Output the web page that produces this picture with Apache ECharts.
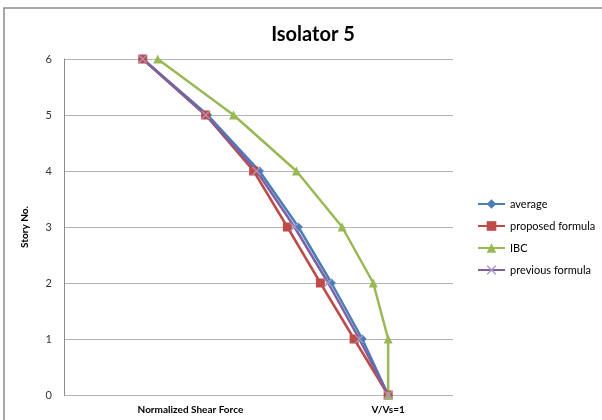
<!DOCTYPE html>
<html>
<head>
<meta charset="utf-8">
<script src="https://cdn.jsdelivr.net/npm/echarts@6/dist/echarts.min.js"></script>
<style>html,body{margin:0;padding:0;background:#fff;}#c{width:602px;height:420px;}</style>
</head>
<body>
<div id="c"></div>
<script>
const stories = [0, 1, 2, 3, 4, 5, 6];
const average = [1.0, 0.92, 0.825, 0.723, 0.603, 0.443, 0.243];
const proposedFormula = [1.0, 0.895, 0.791, 0.689, 0.585, 0.437, 0.243];
const ibc = [1.0, 1.0, 0.954, 0.858, 0.717, 0.523, 0.289];
const previousFormula = [1.0, 0.911, 0.815, 0.711, 0.594, 0.437, 0.243];
const xLabelValues = [0.39, 1.0];
const xLabelTexts = ['Normalized Shear Force', 'V/Vs=1'];

const pts = arr => arr.map((v, i) => [v, stories[i]]);
const FONT = 'Lato, "Open Sans", sans-serif';
const xPath = 'path://M1,0 L5,4 L9,0 L10,1 L6,5 L10,9 L9,10 L5,6 L1,10 L0,9 L4,5 L0,1 Z';

const chart = echarts.init(document.getElementById('c'), null, {renderer: 'canvas'});
chart.setOption({
  animation: false,
  backgroundColor: '#fff',
  textStyle: {fontFamily: FONT},
  title: {
    text: 'Isolator 5', left: 308, top: 20, textAlign: 'center',
    textStyle: {fontFamily: FONT, fontSize: 20, fontWeight: 'bold', color: '#000'}
  },
  graphic: [{
    type: 'rect', shape: {x: 4, y: 8, width: 640, height: 440},
    style: {fill: 'none', stroke: '#8a8a8a', lineWidth: 1.5}, silent: true, z: -1
  }],
  legend: {
    orient: 'vertical', left: 472, top: 193, itemGap: 10, itemWidth: 27, itemHeight: 12,
    textStyle: {fontFamily: FONT, fontSize: 11, color: '#000', lineHeight: 12},
    data: ['average', 'proposed formula', 'IBC', 'previous formula']
  },
  grid: {left: 64, top: 59, right: 149, bottom: 25, containLabel: false},
  xAxis: {
    type: 'value', min: 0, max: 1.2,
    axisLine: {show: false}, axisTick: {show: false}, splitLine: {show: false},
    axisLabel: {
      customValues: xLabelValues, margin: 10,
      fontFamily: FONT, fontSize: 10, fontWeight: 'bold', color: '#000',
      formatter: v => { const i = xLabelValues.findIndex(x => Math.abs(x - v) < 1e-6); return i >= 0 ? xLabelTexts[i] : ''; }
    }
  },
  yAxis: {
    type: 'value', min: 0, max: 6, interval: 1,
    name: 'Story No.', nameLocation: 'middle', nameGap: 34,
    nameTextStyle: {fontFamily: FONT, fontSize: 10, fontWeight: 'bold', color: '#000'},
    axisLine: {show: true, lineStyle: {color: '#8a8a8a', width: 1}},
    axisTick: {show: false},
    axisLabel: {margin: 12, fontFamily: FONT, fontSize: 11, color: '#333'},
    splitLine: {lineStyle: {color: '#b4b4b4', width: 1}}
  },
  series: [
    {name: 'average', type: 'line', data: pts(average), symbol: 'diamond', symbolSize: 9,
     itemStyle: {color: '#4a7ebb'}, lineStyle: {width: 2.5, color: '#4a7ebb'}},
    {name: 'proposed formula', type: 'line', data: pts(proposedFormula), symbol: 'rect', symbolSize: 9,
     itemStyle: {color: '#be4b48'}, lineStyle: {width: 2.5, color: '#be4b48'}},
    {name: 'IBC', type: 'line', data: pts(ibc), symbol: 'triangle', symbolSize: 9,
     itemStyle: {color: '#98b954'}, lineStyle: {width: 2.5, color: '#98b954'}},
    {name: 'previous formula', type: 'line', data: pts(previousFormula), symbol: xPath, symbolSize: 9,
     itemStyle: {color: '#a896c4'}, lineStyle: {width: 2.5, color: '#7d60a0'}}
  ]
});
</script>
</body>
</html>
